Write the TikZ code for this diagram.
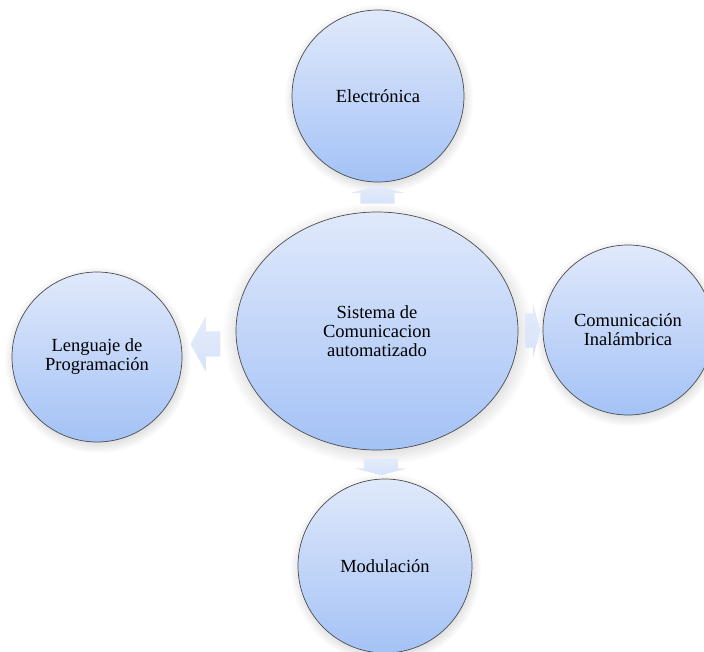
\documentclass[tikz,border=0pt]{standalone}
\usepackage{fontspec}
\setmainfont{Liberation Serif}
\usepackage{xcolor}
\usetikzlibrary{shapes.geometric, shapes.arrows, calc, shadows}

\definecolor{bubtop}{RGB}{224,233,251}
\definecolor{bubbot}{RGB}{164,194,246}
\definecolor{flowfill}{RGB}{216,227,249}

\begin{document}
\begin{tikzpicture}[
  x=1pt, y=-1pt,
  bubble/.style={draw=black!70, line width=0.7pt, top color=bubtop, bottom color=bubbot, align=center, font=\fontsize{18.5}{19}\selectfont, inner sep=0pt, circular drop shadow={shadow xshift=0.5pt, shadow yshift=-2.5pt, opacity=0.3}},
  flow/.style={single arrow, draw=none, top color=flowfill!70!white, bottom color=flowfill, inner xsep=0pt}
]
  \useasboundingbox (0,0) rectangle (704,651);
  \node[bubble, ellipse, minimum width=282pt, minimum height=238pt] (S) at (377,331) {Sistema de\\Comunicacion\\automatizado};
  \node[bubble, circle, minimum size=172pt] (E) at (378,96) {Electrónica};
  \node[bubble, circle, minimum size=170pt] (L) at (97,357) {Lenguaje de\\Programación};
  \node[bubble, circle, minimum size=170pt] (C) at (628,330) {Comunicación\\Inalámbrica};
  \node[bubble, circle, minimum size=174pt] (M) at (385,566) {Modulación};
  \node[flow, rotate=90, inner ysep=17pt, minimum height=18pt, single arrow head extend=10pt, single arrow tip angle=150] (toE) at ($(S.north)!0.5!(E.south)$) {};
  \node[flow, rotate=180, inner ysep=12.5pt, minimum height=30pt, single arrow head extend=15pt, single arrow tip angle=122] (toL) at ($(S.west)!0.5!(L.east)$) {};
  \node[flow, inner ysep=17pt, minimum height=15pt, single arrow head extend=10pt, single arrow tip angle=150] (toC) at ($(S.east)!0.5!(C.west)$) {};
  \node[flow, rotate=-90, inner ysep=17pt, minimum height=17pt, single arrow head extend=9pt, single arrow tip angle=150] (toM) at ($(S.south)!0.5!(M.north)$) {};
\end{tikzpicture}
\end{document}
